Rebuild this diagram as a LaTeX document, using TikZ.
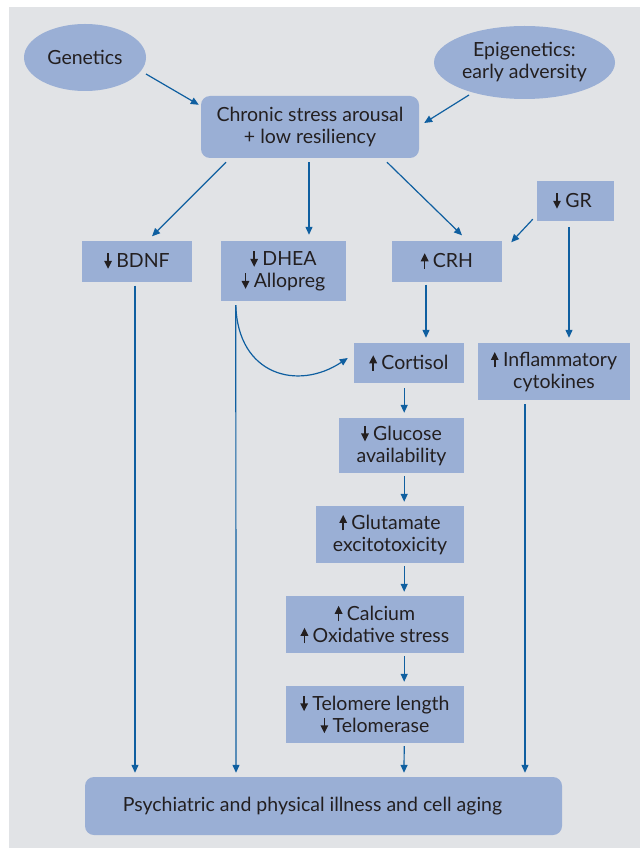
\documentclass[tikz,border=0pt]{standalone}
\usepackage{fontspec}
\setmainfont{Lato}
\usetikzlibrary{arrows.meta,shapes.geometric,calc}
\definecolor{panel}{HTML}{E1E3E6}
\definecolor{boxc}{HTML}{9AAFD5}
\definecolor{arrc}{HTML}{0F5FA0}
\definecolor{txt}{HTML}{231F20}
\newcommand{\upar}{\tikz[baseline=0pt]\draw[txt,line width=1.5pt,-{Triangle[width=7.5pt,length=8pt]}] (0pt,-1pt)--(0pt,14.5pt);\hspace{4.5pt}}
\newcommand{\dnar}{\tikz[baseline=0pt]\draw[txt,line width=1.5pt,-{Triangle[width=7.5pt,length=8pt]}] (0pt,14.5pt)--(0pt,-1pt);\hspace{4.5pt}}
\begin{document}
\begin{tikzpicture}[x=1pt,y=-1pt,
  lbl/.style={text=txt, align=center, inner sep=0pt, font=\fontsize{19.5}{22}\selectfont},
  box/.style={lbl, fill=boxc},
  rbox/.style={box, rounded corners=9pt},
  ell/.style={ellipse, fill=boxc, inner sep=0pt},
  arr/.style={draw=arrc, line width=1.2pt, -{Triangle[width=7pt,length=8pt]}}]
\fill[white] (0,0) rectangle (640,850);
\useasboundingbox (0,0) rectangle (640,850);
\fill[panel] (9,7) rectangle (640,848);

% ellipses
\node[ell, minimum width=122, minimum height=67] (gen) at (85,57.5) {};
\node[lbl] (gent) at (gen.center) {Genetics};
\node[ell, minimum width=181, minimum height=73] (epi) at (524.5,62.5) {};
\node[lbl] (epit) at (epi.center) {Epigenetics:\\early adversity};

% boxes
\node[rbox, minimum width=218, minimum height=62] (chr) at (310,127) {Chronic stress arousal\\+ low resiliency};
\node[box, minimum width=110, minimum height=41] (bdnf) at (137,261) {\dnar BDNF};
\node[box, minimum width=125, minimum height=60] (dhea) at (283.5,271) {\dnar DHEA\\\dnar Allopreg};
\node[box, minimum width=110, minimum height=41] (crh) at (447,261) {\upar CRH};
\node[box, minimum width=77, minimum height=40] (gr) at (575.5,201) {\dnar GR\hspace*{6pt}};
\node[box, minimum width=110, minimum height=40] (cort) at (409,363) {\upar Cortisol};
\node[box, minimum width=152, minimum height=57] (infl) at (554,371.5) {\upar Inflammatory\\cytokines};
\node[box, minimum width=125, minimum height=55] (gluc) at (401.5,445.5) {\dnar Glucose\\availability};
\node[box, minimum width=148, minimum height=57] (glut) at (390,534.5) {\upar Glutamate\\excitotoxicity};
\node[box, minimum width=178, minimum height=57] (calc) at (375,624.5) {\upar Calcium\\\upar Oxidative stress};
\node[box, minimum width=178, minimum height=57] (telo) at (375,714.5) {\dnar Telomere length\\\dnar Telomerase};
\node[rbox, minimum width=477, minimum height=58] (ill) at (323.5,806) {Psychiatric and physical illness and cell aging\hspace*{22pt}};

% connectors
\draw[arr] ($(gen.center)+(61,16.5)$) -- ($(chr.north west)+(-2,9)$);
\draw[arr] ($(epi.center)+(-55.5,32.5)$) -- ($(chr.east)+(5,-4)$);
\draw[arr] ($(chr.south)+(-84,4)$) -- ($(bdnf.north)+(15,-4)$);
\draw[arr] ($(chr.south)+(-1,4)$) -- ($(dhea.north)+(25.5,-6)$);
\draw[arr] ($(chr.south)+(77,4)$) -- ($(crh.north)+(15,-5)$);
\draw[arr] ($(gr.south west)+(-4,-2)$) -- ($(crh.north east)+(9,2)$);
\draw[arr] ($(gr.south)+(-6.5,6)$) -- ($(infl.north)+(15,-5)$);
\draw[arr] ($(crh.south)+(-21,3)$) -- ($(cort.north)+(17,-5)$);
\draw[arr] ($(dhea.south west)+(15,4)$) .. controls ($(dhea.south west)+(17,74)$) and ($(dhea.south west)+(77,90)$) .. ($(cort.west)+(-6,-5)$);
\draw[arr] ($(dhea.south west)+(15,4)$) -- ($(ill.north)+(-87.5,-4)$);
\draw[arr] ($(bdnf.south)+(-2,4)$) -- ($(ill.north)+(-188.5,-4)$);
\draw[arr] ($(infl.south)+(-29,4)$) -- ($(ill.north)+(201.5,-4)$);
\draw[arr] ($(cort.south east)+(-60,5)$) -- ($(gluc.north east)+(-60,-5)$);
\draw[arr] ($(gluc.south east)+(-60,3)$) -- ($(glut.north east)+(-60,-4)$);
\draw[arr] ($(glut.south east)+(-60,3)$) -- ($(calc.north east)+(-60,-4)$);
\draw[arr] ($(calc.south east)+(-60,3)$) -- ($(telo.north east)+(-60,-4)$);
\draw[arr] ($(telo.south east)+(-60,3)$) -- ($(ill.north)+(80.5,-4)$);
\end{tikzpicture}
\end{document}
